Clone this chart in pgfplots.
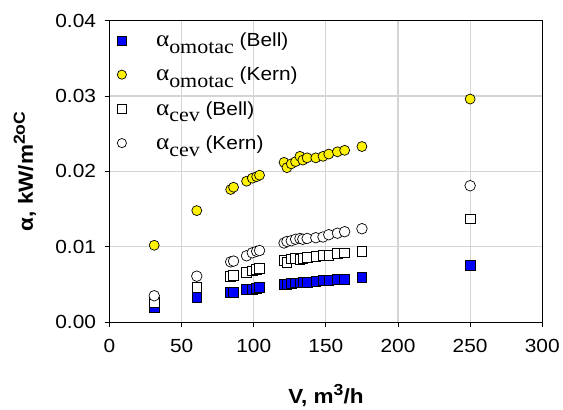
\documentclass[border=0pt]{standalone}
\usepackage{fontspec}
\setmainfont[FakeStretch=1.1]{Liberation Sans}
\newfontfamily\timesf[FakeStretch=1.1]{Liberation Serif}
\usepackage{pgfplots}
\usepackage{pgfplotstable}
\pgfplotsset{compat=1.18}

\pgfplotstableread{
x     ob      ok      cb      ck
31    0.0019  0.0102  0.0026  0.0035
60.5  0.0033  0.0148  0.0046  0.0061
84    0.0040  0.0176  0.0061  0.0080
86    0.0040  0.0179  0.0062  0.0081
95    0.0043  0.0187  0.0066  0.0088
99    0.0044  0.0191  0.0068  0.0092
102   0.0045  0.0193  0.0070  0.0094
104   0.0046  0.0195  0.0071  0.0095
121   0.0050  0.0212  0.0082  0.0105
123   0.0050  0.0205  0.0079  0.0107
126   0.0051  0.0210  0.0084  0.0108
129   0.0052  0.0213  0.0085  0.0110
132   0.0052  0.0220  0.0083  0.0111
134   0.0053  0.0215  0.0085  0.0110
137   0.0053  0.0218  0.0086  0.0111
143   0.0054  0.0218  0.0087  0.0112
148   0.0055  0.0220  0.0089  0.0113
152   0.0055  0.0223  0.0089  0.0116
158   0.0057  0.0226  0.0091  0.0118
163   0.0057  0.0228  0.0092  0.0120
175   0.0059  0.0233  0.0094  0.0124
250   0.0075  0.0296  0.0137  0.0181
}\data

\newcommand{\alf}[1]{{\timesf\fontsize{23}{23}\selectfont α}{\timesf\fontsize{20}{20}\selectfont\raisebox{-7pt}{#1}}}
\newcommand{\mysup}[1]{\raisebox{8pt}{\fontsize{16}{16}\selectfont #1}}

\begin{document}
\begin{tikzpicture}
\begin{axis}[
  scale only axis, width=433.5pt, height=302pt,
  xmin=0, xmax=300, ymin=0, ymax=0.04,
  xtick={0,50,100,150,200,250,300},
  ytick={0,0.01,0.02,0.03,0.04},
  scaled y ticks=false,
  yticklabel style={/pgf/number format/.cd,fixed,fixed zerofill,precision=2,/tikz/.cd,xshift=-5pt},
  xticklabel style={yshift=-9pt},
  /pgf/number format/assume math mode=true,
  tick align=outside, tick pos=left,
  major tick length=5pt,
  grid=major, grid style={draw=black!17, line width=1.2pt},
  axis line style={line width=0.9pt},
  tick style={line width=0.9pt, black},
  tick label style={font=\fontsize{19}{22}\selectfont},
  label style={font=\bfseries\fontsize{20.5}{22}\selectfont},
  xlabel={V, m\mysup{3}/h},
  ylabel={α, kW/m\mysup{2oC}},
  xlabel style={at={(axis description cs:0.5,-0.2692)}, anchor=base},
  ylabel style={at={(axis description cs:-0.1769,0.5)}, anchor=base},
  legend style={draw=none, fill=none, at={(0,1)}, anchor=north west,
    xshift=3pt, yshift=-8pt,
    font=\fontsize{19}{22}\selectfont, row sep=15pt},
  legend cell align=left,
  myleg/.style={legend image code/.code={\path (-6pt,0pt) (32pt,0pt); \draw[##1] plot coordinates {(0pt,0pt)};}},
  legend image post style={mark size=4.6pt},
]
\addplot[only marks, myleg, mark=square*, mark size=4.9pt, mark options={fill=blue, draw=black, line width=0.7pt}]
  table[x=x, y=ob] {\data};
\addlegendentry{\alf{omotac} (Bell)}
\addplot[only marks, myleg, mark=*, mark size=5pt, mark options={fill=yellow, draw=black, line width=0.7pt}]
  table[x=x, y=ok] {\data};
\addlegendentry{\alf{omotac} (Kern)}
\addplot[only marks, myleg, mark=square*, mark size=4.9pt, mark options={fill=white, draw=black, line width=0.7pt}]
  table[x=x, y=cb] {\data};
\addlegendentry{\alf{cev} (Bell)}
\addplot[only marks, myleg, mark=*, mark size=5.3pt, mark options={fill=white, draw=black, line width=0.7pt}]
  table[x=x, y=ck] {\data};
\addlegendentry{\alf{cev} (Kern)}
\end{axis}
\path (current axis.south west) ++(-109.7pt,-83.3pt) rectangle ++(563pt,406pt);
\end{tikzpicture}
\end{document}
